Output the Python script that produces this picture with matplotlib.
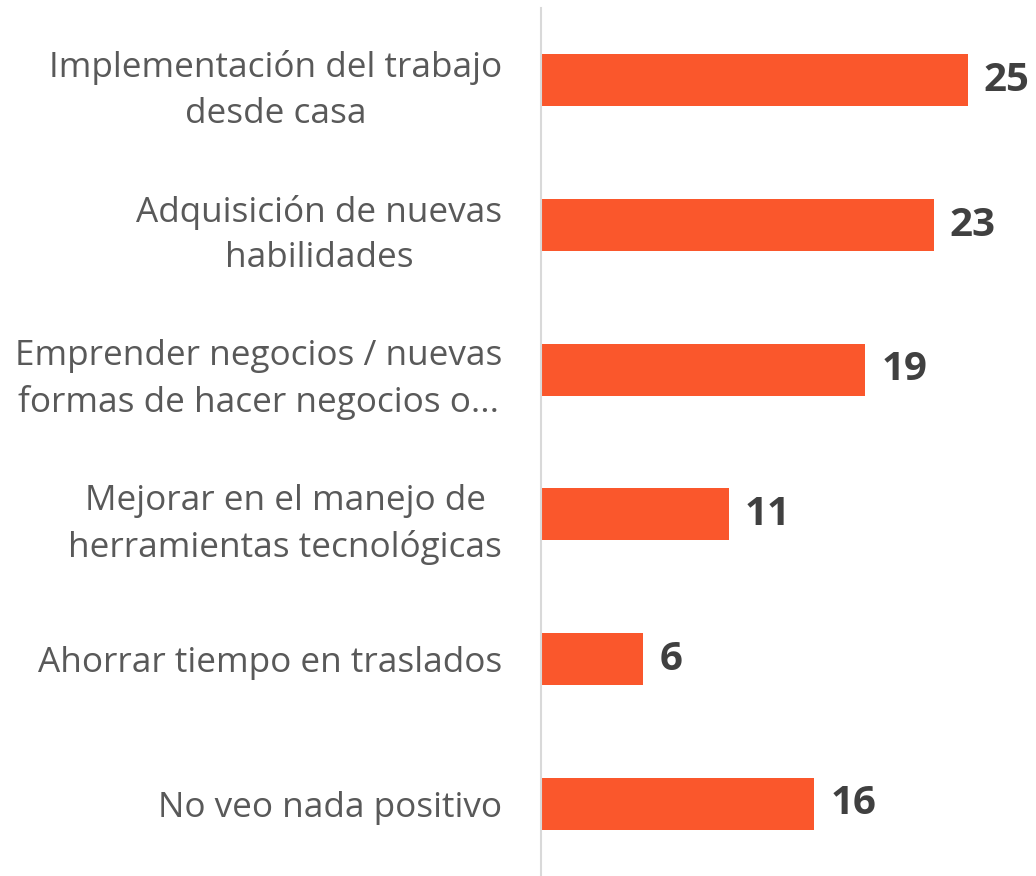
import matplotlib.pyplot as plt

# Datos del gráfico
categorias = [
    'Implementación del trabajo\ndesde casa',
    'Adquisición de nuevas\nhabilidades',
    'Emprender negocios / nuevas\nformas de hacer negocios o...',
    'Mejorar en el manejo de\nherramientas tecnológicas',
    'Ahorrar tiempo en traslados',
    'No veo nada positivo',
]
valores = [25, 23, 19, 11, 6, 16]

color_barra = '#FA572C'
color_texto = '#595959'

fig = plt.figure(figsize=(10.36, 8.76), dpi=100)
ax = fig.add_axes([541 / 1036, 0, 1 - 541 / 1036, 1 - 8 / 876])

pos = list(range(len(categorias)))
ax.barh(pos, valores, height=0.36, color=color_barra)

ax.set_ylim(len(categorias) - 0.5, -0.5)
ax.set_xlim(0, 29)

ax.set_yticks(pos)
ax.set_yticklabels(categorias, fontsize=25.3, color=color_texto,
                   family=['Open Sans', 'DejaVu Sans'], linespacing=1.45,
                   multialignment='center')
ax.tick_params(axis='y', length=0, pad=28)
ax.set_xticks([])

for s in ['top', 'right', 'bottom']:
    ax.spines[s].set_visible(False)
ax.spines['left'].set_color('#D9D9D9')
ax.spines['left'].set_linewidth(1.5)

# Etiquetas de valor
for p, v in zip(pos, valores):
    ax.text(v + 0.95, p, str(v), va='center', ha='left', fontsize=29,
            fontweight='bold', color='#404040', family=['Open Sans', 'DejaVu Sans'])

plt.savefig('out.png', dpi=100)
